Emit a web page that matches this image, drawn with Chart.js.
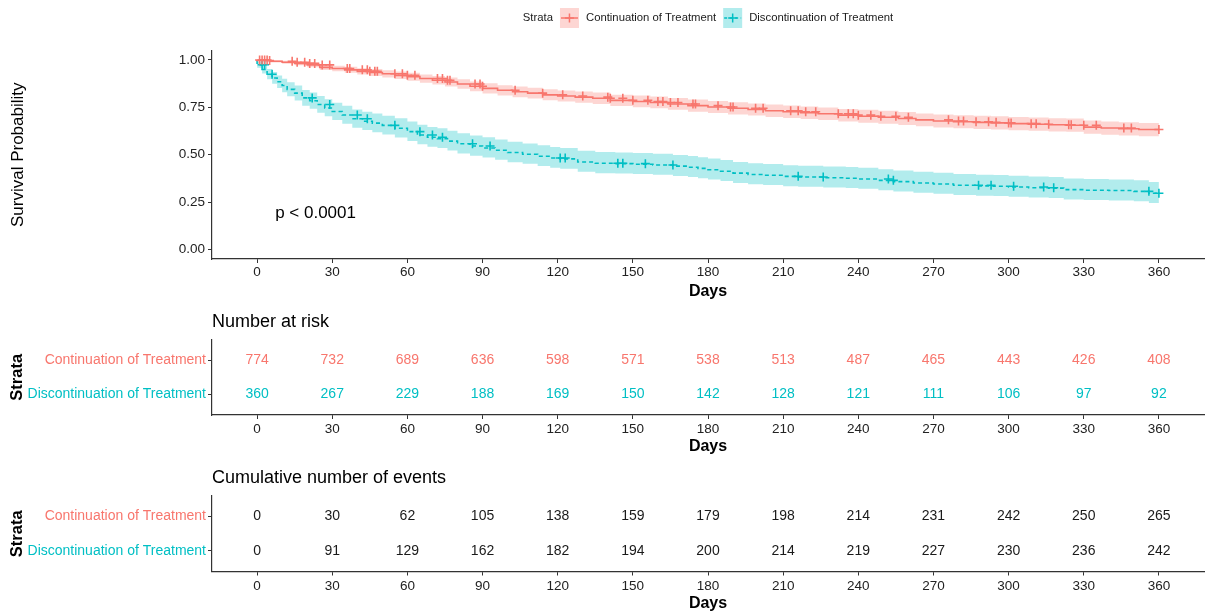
<!DOCTYPE html>
<html>
<head>
<meta charset="utf-8">
<title>Survival by treatment continuation</title>
<script src="https://cdn.jsdelivr.net/npm/chart.js@4.4.1/dist/chart.umd.min.js"></script>
<style>
  html, body { margin: 0; padding: 0; background: #ffffff; }
  #wrap { position: relative; width: 1205px; height: 613px; overflow: hidden; }
  #wrap canvas { position: absolute; left: 0; }
</style>
</head>
<body>
<div id="wrap">
  <canvas id="km" width="1205" height="300" style="top:0px"></canvas>
  <canvas id="risk" width="1205" height="155" style="top:300px"></canvas>
  <canvas id="events" width="1205" height="158" style="top:455px"></canvas>
</div>
<script>
// ---- labels ----
const strata = ['Continuation of Treatment', 'Discontinuation of Treatment'];
const legendTitle = 'Strata';
const pValueText = 'p < 0.0001';
const tickDays = [0, 30, 60, 90, 120, 150, 180, 210, 240, 270, 300, 330, 360];
const probTicks = [0, 0.25, 0.5, 0.75, 1];

// ---- Kaplan-Meier steps: continuation of treatment ----
const contTime = [0, 5, 10, 15, 20, 25, 30, 35, 40, 45, 50, 55, 60, 65, 70, 75, 80, 85, 90,
  96, 102, 108, 114, 120, 127, 134, 141, 150, 157, 164, 172, 180, 188, 196, 203, 210,
  217, 224, 232, 240, 248, 256, 263, 270, 278, 286, 293, 300, 308, 316, 323, 330,
  337, 344, 352, 360];
const contSurv = [1.000, 0.997, 0.993, 0.988, 0.982, 0.974, 0.961, 0.955, 0.948, 0.940, 0.934, 0.927, 0.919, 0.912, 0.902, 0.893, 0.884, 0.873, 0.861,
  0.850, 0.840, 0.832, 0.825, 0.816, 0.810, 0.804, 0.798, 0.787, 0.781, 0.776, 0.768, 0.759, 0.752, 0.745, 0.739, 0.732,
  0.727, 0.722, 0.716, 0.709, 0.703, 0.698, 0.691, 0.684, 0.678, 0.674, 0.671, 0.668, 0.664, 0.661, 0.658, 0.656,
  0.646, 0.641, 0.637, 0.633];
const contUpper = [1.000, 1.000, 0.999, 0.996, 0.992, 0.986, 0.975, 0.970, 0.964, 0.957, 0.952, 0.946, 0.939, 0.933, 0.924, 0.916, 0.908, 0.898, 0.887,
  0.877, 0.867, 0.860, 0.853, 0.845, 0.839, 0.834, 0.828, 0.817, 0.812, 0.807, 0.799, 0.791, 0.784, 0.777, 0.771, 0.765,
  0.760, 0.755, 0.749, 0.742, 0.737, 0.732, 0.725, 0.718, 0.712, 0.708, 0.706, 0.703, 0.699, 0.696, 0.693, 0.691,
  0.681, 0.676, 0.672, 0.668];
const contLower = [1.000, 0.993, 0.987, 0.980, 0.972, 0.962, 0.947, 0.940, 0.932, 0.923, 0.916, 0.908, 0.899, 0.891, 0.880, 0.870, 0.860, 0.848, 0.835,
  0.823, 0.813, 0.804, 0.797, 0.787, 0.781, 0.774, 0.768, 0.757, 0.750, 0.745, 0.737, 0.727, 0.720, 0.713, 0.707, 0.699,
  0.694, 0.689, 0.683, 0.676, 0.669, 0.664, 0.657, 0.650, 0.644, 0.640, 0.636, 0.633, 0.629, 0.626, 0.623, 0.621,
  0.611, 0.606, 0.602, 0.598];
const contCensored = [1, 2, 3, 4, 5, 14, 16, 19, 21, 23, 26, 29, 36, 37, 42, 44, 45, 47, 48, 55, 58, 60, 63,
  72, 74, 76, 77, 87, 89, 90, 103, 114, 122, 130, 140, 141, 146, 150, 156, 160, 162, 165, 168, 174, 175,
  184, 189, 190, 199, 202, 213, 216, 219, 223, 232, 236, 238, 240, 245, 249, 255, 260, 276, 280, 282,
  287, 292, 295, 300, 301, 309, 311, 316, 324, 325, 330, 335, 346, 349, 360];

// ---- Kaplan-Meier steps: discontinuation of treatment ----
const discTime = [0, 2, 4, 6, 8, 10, 12, 15, 18, 21, 24, 27, 30, 34, 38, 42, 46, 50, 55, 60,
  64, 68, 72, 76, 80, 85, 90, 95, 100, 106, 112, 117, 121, 128, 135, 143, 150,
  158, 166, 172, 176, 180, 185, 190, 196, 202, 210, 216, 226, 235, 240,
  248, 254, 262, 270, 278, 287, 294, 300, 308, 316, 322, 330, 340, 350, 356, 360];
const discSurv = [1.000, 0.975, 0.950, 0.925, 0.905, 0.885, 0.865, 0.845, 0.825, 0.800, 0.785, 0.765, 0.747,
  0.728, 0.710, 0.690, 0.677, 0.667, 0.655, 0.640, 0.622, 0.604, 0.592, 0.585, 0.572, 0.558, 0.546,
  0.536, 0.524, 0.512, 0.503, 0.492, 0.483, 0.478, 0.462, 0.455, 0.453,
  0.450, 0.446, 0.440, 0.434, 0.428, 0.421, 0.413, 0.403, 0.396, 0.392, 0.386, 0.383, 0.379, 0.376,
  0.372, 0.365, 0.358, 0.351, 0.346, 0.339, 0.336, 0.334, 0.330, 0.326, 0.324, 0.316, 0.313, 0.311, 0.307, 0.297];
const discUpper = [1.000, 0.991, 0.973, 0.952, 0.936, 0.918, 0.901, 0.883, 0.865, 0.842, 0.828, 0.810, 0.793,
  0.775, 0.758, 0.739, 0.727, 0.717, 0.706, 0.692, 0.675, 0.658, 0.646, 0.640, 0.627, 0.614, 0.602,
  0.592, 0.581, 0.569, 0.560, 0.550, 0.541, 0.536, 0.521, 0.514, 0.512,
  0.509, 0.505, 0.499, 0.493, 0.487, 0.480, 0.472, 0.462, 0.455, 0.451, 0.445, 0.442, 0.438, 0.435,
  0.431, 0.424, 0.417, 0.410, 0.405, 0.398, 0.395, 0.393, 0.389, 0.385, 0.383, 0.375, 0.372, 0.370, 0.366, 0.356];
const discLower = [1.000, 0.959, 0.928, 0.898, 0.875, 0.852, 0.830, 0.808, 0.786, 0.759, 0.743, 0.722, 0.703,
  0.683, 0.664, 0.643, 0.630, 0.619, 0.607, 0.591, 0.573, 0.555, 0.542, 0.535, 0.522, 0.507, 0.495,
  0.485, 0.473, 0.461, 0.452, 0.440, 0.431, 0.426, 0.410, 0.403, 0.401,
  0.398, 0.394, 0.388, 0.382, 0.376, 0.369, 0.361, 0.351, 0.344, 0.340, 0.334, 0.331, 0.327, 0.324,
  0.320, 0.313, 0.306, 0.299, 0.294, 0.287, 0.284, 0.282, 0.278, 0.274, 0.272, 0.264, 0.261, 0.259, 0.255, 0.245];
const discCensored = [2, 3, 6, 22, 29, 40, 44, 55, 65, 70, 74, 86, 93, 121, 123, 144, 146, 155, 166,
  216, 226, 252, 254, 288, 293, 302, 314, 318, 356, 360];

// ---- tables under the plot ----
const atRiskCont = [774, 732, 689, 636, 598, 571, 538, 513, 487, 465, 443, 426, 408];
const atRiskDisc = [360, 267, 229, 188, 169, 150, 142, 128, 121, 111, 106, 97, 92];
const eventsCont = [0, 30, 62, 105, 138, 159, 179, 198, 214, 231, 242, 250, 265];
const eventsDisc = [0, 91, 129, 162, 182, 194, 200, 214, 219, 227, 230, 236, 242];

// ---- styling ----
const FONT = "'Liberation Sans', Arial, Helvetica, sans-serif";
const INK = '#222222';
const AXIS = '#333333';
const RED = '#F8766D';
const CYAN = '#00BFC4';
const RED_BAND = 'rgba(248,118,109,0.3)';
const CYAN_BAND = 'rgba(0,191,196,0.3)';
const TICK_SIZE = 13.5;

Chart.defaults.font.family = FONT;

function pts(xs, ys) { return xs.map((x, i) => ({ x: x, y: ys[i] })); }
function stepAt(xs, ys, t) {
  let v = ys[0];
  for (let i = 0; i < xs.length; i++) { if (xs[i] <= t) v = ys[i]; else break; }
  return v;
}
function censorPts(times, xs, ys) { return times.map(t => ({ x: t, y: stepAt(xs, ys, t) })); }

function dayAxis(axisHeight, labelPad, titlePad) {
  return {
    type: 'linear', min: -18, max: 378,
    afterBuildTicks: s => { s.ticks = tickDays.map(v => ({ value: v })); },
    afterFit: s => { s.height = axisHeight; },
    ticks: { color: INK, font: { size: TICK_SIZE }, padding: labelPad, maxRotation: 0, autoSkip: false },
    grid: { drawOnChartArea: false, drawTicks: true, tickLength: 4, tickColor: AXIS, tickWidth: 1 },
    border: { display: true, color: AXIS, width: 1.2 },
    title: { display: true, text: 'Days', color: '#000', font: { size: 16, weight: 'bold' }, padding: { top: 0, bottom: titlePad } }
  };
}

// ---- legend and p-value drawn on the survival panel ----
const kmDecor = {
  id: 'kmDecor',
  afterDraw(chart) {
    const { ctx, chartArea, scales } = chart;
    ctx.save();
    ctx.font = '17px ' + FONT;
    ctx.fillStyle = '#000';
    ctx.textAlign = 'left';
    ctx.textBaseline = 'middle';
    ctx.fillText(pValueText, scales.x.getPixelForValue(7.2), scales.y.getPixelForValue(0.19));

    ctx.font = '11.3px ' + FONT;
    const gap = 7, key = 19, cy = 18;
    let total = ctx.measureText(legendTitle).width;
    strata.forEach(n => { total += gap + key + gap + ctx.measureText(n).width; });
    let cx = (chartArea.left + chartArea.right) / 2 - total / 2;
    ctx.fillStyle = '#1a1a1a';
    ctx.fillText(legendTitle, cx, cy);
    cx += ctx.measureText(legendTitle).width + gap;
    strata.forEach((name, i) => {
      const col = i === 0 ? RED : CYAN;
      ctx.fillStyle = i === 0 ? RED_BAND : CYAN_BAND;
      ctx.fillRect(cx, cy - 10, key, 20);
      ctx.strokeStyle = col;
      ctx.lineWidth = 1.5;
      ctx.setLineDash(i === 0 ? [] : [3, 2.5]);
      ctx.beginPath(); ctx.moveTo(cx + 1, cy); ctx.lineTo(cx + key - 1, cy); ctx.stroke();
      ctx.setLineDash([]);
      ctx.beginPath();
      ctx.moveTo(cx + key / 2, cy - 4.5); ctx.lineTo(cx + key / 2, cy + 4.5);
      ctx.moveTo(cx + key / 2 - 4.5, cy); ctx.lineTo(cx + key / 2 + 4.5, cy);
      ctx.stroke();
      cx += key + gap;
      ctx.fillStyle = '#1a1a1a';
      ctx.fillText(name, cx, cy);
      cx += ctx.measureText(name).width + gap;
    });
    ctx.restore();
  }
};

new Chart(document.getElementById('km'), {
  type: 'line',
  data: {
    datasets: [
      { label: strata[0] + ' censored', data: censorPts(contCensored, contTime, contSurv), showLine: false,
        pointStyle: 'cross', pointRadius: 4.5, pointBorderWidth: 1.6, borderColor: RED, pointBorderColor: RED },
      { label: strata[1] + ' censored', data: censorPts(discCensored, discTime, discSurv), showLine: false,
        pointStyle: 'cross', pointRadius: 4.5, pointBorderWidth: 1.6, borderColor: CYAN, pointBorderColor: CYAN },
      { label: strata[0], data: pts(contTime, contSurv), stepped: 'after', borderColor: RED, borderWidth: 1.6,
        pointRadius: 0, fill: false },
      { label: strata[1], data: pts(discTime, discSurv), stepped: 'after', borderColor: CYAN, borderWidth: 1.6,
        borderDash: [4, 3], pointRadius: 0, fill: false },
      { label: 'ci upper 1', data: pts(contTime, contUpper), stepped: 'after', borderWidth: 0, borderColor: 'rgba(0,0,0,0)',
        pointRadius: 0, fill: false },
      { label: 'ci lower 1', data: pts(contTime, contLower), stepped: 'after', borderWidth: 0, borderColor: 'rgba(0,0,0,0)',
        pointRadius: 0, fill: '-1', backgroundColor: RED_BAND },
      { label: 'ci upper 2', data: pts(discTime, discUpper), stepped: 'after', borderWidth: 0, borderColor: 'rgba(0,0,0,0)',
        pointRadius: 0, fill: false },
      { label: 'ci lower 2', data: pts(discTime, discLower), stepped: 'after', borderWidth: 0, borderColor: 'rgba(0,0,0,0)',
        pointRadius: 0, fill: '-1', backgroundColor: CYAN_BAND }
    ]
  },
  options: {
    responsive: false, animation: false, devicePixelRatio: 1,
    layout: { autoPadding: false, padding: { top: 50.5, right: 1, left: 0, bottom: 0 } },
    plugins: { legend: { display: false }, tooltip: { enabled: false } },
    scales: {
      x: dayAxis(41, 1, -1.5),
      y: {
        type: 'linear', min: -0.05, max: 1.05,
        afterBuildTicks: s => { s.ticks = probTicks.map(v => ({ value: v })); },
        afterFit: s => { s.width = 212; },
        ticks: { color: INK, font: { size: TICK_SIZE }, padding: 3, callback: v => Number(v).toFixed(2) },
        grid: { drawOnChartArea: false, drawTicks: true, tickLength: 4, tickColor: AXIS, tickWidth: 1 },
        border: { display: true, color: AXIS, width: 1.2 },
        title: { display: true, text: 'Survival Probability', color: '#000', font: { size: 17 }, padding: { top: 8 } }
      }
    }
  },
  plugins: [kmDecor]
});

// ---- number tables ----
const tableText = {
  id: 'tableText',
  afterDatasetsDraw(chart, args, opts) {
    const { ctx, chartArea } = chart;
    ctx.save();
    ctx.font = '14px ' + FONT;
    ctx.textAlign = 'center';
    ctx.textBaseline = 'middle';
    chart.data.datasets.forEach((ds, di) => {
      const meta = chart.getDatasetMeta(di);
      ctx.fillStyle = ds.textColor;
      meta.data.forEach((el, i) => ctx.fillText(String(ds.counts[i]), el.x, el.y));
    });
    ctx.font = '18px ' + FONT;
    ctx.textAlign = 'left';
    ctx.fillStyle = '#000';
    ctx.fillText(opts.title, chartArea.left, opts.titleY);
    ctx.restore();
  }
};

function tableChart(id, title, titleY, countsA, countsB, colorA, colorB, topPad, axisHeight, daysPad) {
  return new Chart(document.getElementById(id), {
    type: 'scatter',
    data: {
      datasets: [
        { label: strata[0], data: tickDays.map(d => ({ x: d, y: 1 })), counts: countsA, textColor: colorA, pointRadius: 0 },
        { label: strata[1], data: tickDays.map(d => ({ x: d, y: 2 })), counts: countsB, textColor: colorB, pointRadius: 0 }
      ]
    },
    options: {
      responsive: false, animation: false, devicePixelRatio: 1,
      layout: { autoPadding: false, padding: { top: topPad, right: 1, left: 0, bottom: 0 } },
      plugins: { legend: { display: false }, tooltip: { enabled: false }, tableText: { title: title, titleY: titleY } },
      scales: {
        x: dayAxis(axisHeight, 2.5, daysPad),
        y: {
          type: 'linear', min: 0.4, max: 2.6, reverse: true,
          afterBuildTicks: s => { s.ticks = [{ value: 1 }, { value: 2 }]; },
          afterFit: s => { s.width = 212; },
          ticks: {
            font: { size: 14 }, padding: 2,
            callback: (v, i) => strata[i],
            color: c => (c.tick && c.tick.value === 1) ? RED : CYAN
          },
          grid: { drawOnChartArea: false, drawTicks: true, tickLength: 4, tickColor: AXIS, tickWidth: 1 },
          border: { display: true, color: AXIS, width: 1.2 },
          title: { display: true, text: 'Strata', color: '#000', font: { size: 16.5, weight: 'bold' }, padding: { top: 8 } }
        }
      }
    },
    plugins: [tableText]
  });
}

tableChart('risk', 'Number at risk', 22, atRiskCont, atRiskDisc, RED, CYAN, 39.5, 40, -1.5);
tableChart('events', 'Cumulative number of events', 23, eventsCont, eventsDisc, '#1a1a1a', '#1a1a1a', 41, 41.5, -0.5);
</script>
</body>
</html>
